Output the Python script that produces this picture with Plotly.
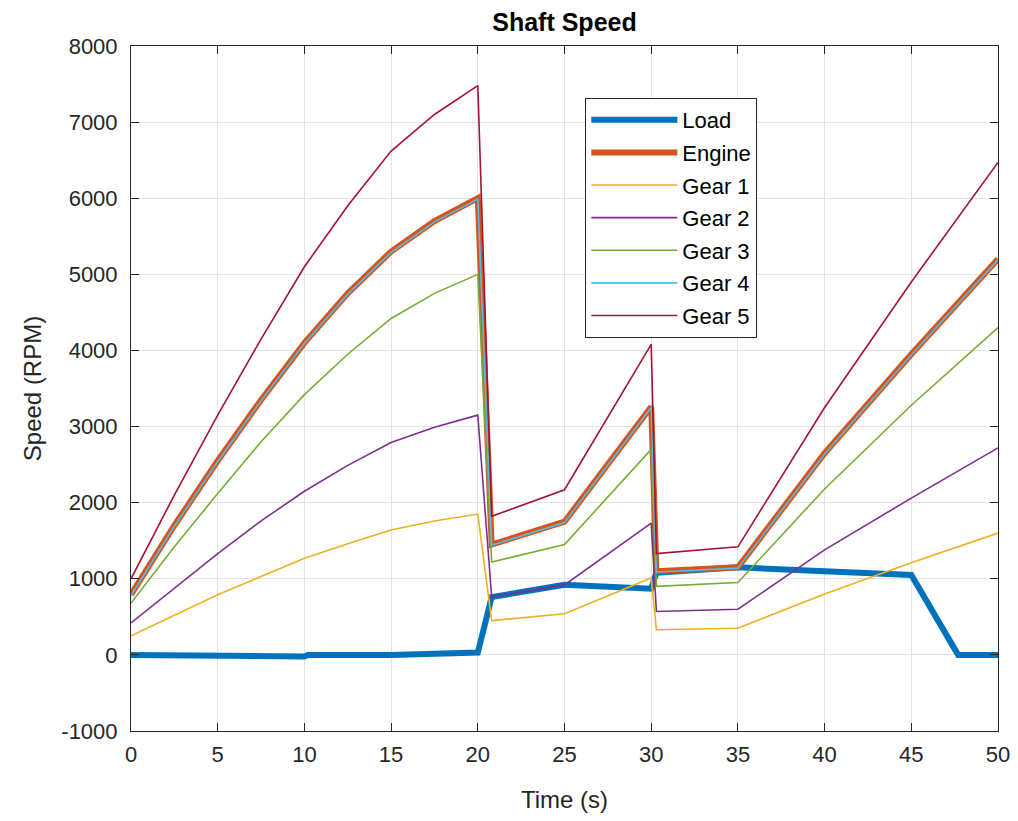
import plotly.graph_objects as go

# ---- data ----
t_gear = [0, 2.5, 5, 7.5, 10, 12.5, 15, 17.5, 20, 20.8, 25, 30, 30.3, 35, 40, 45, 50]
engine = [790, 1700, 2550, 3350, 4100, 4750, 5300, 5700, 6000, 1450, 1750, 3260, 1100, 1150, 2650, 3950, 5200]
gear1 = [250, 520, 790, 1030, 1270, 1460, 1640, 1760, 1850, 450, 540, 1010, 330, 350, 800, 1210, 1600]
gear2 = [420, 880, 1330, 1760, 2150, 2490, 2790, 2990, 3150, 760, 920, 1730, 570, 600, 1380, 2060, 2720]
gear3 = [680, 1420, 2120, 2800, 3420, 3950, 4420, 4750, 5000, 1220, 1450, 2700, 900, 950, 2180, 3280, 4300]
gear4 = [780, 1690, 2540, 3340, 4090, 4740, 5290, 5690, 5990, 1440, 1740, 3250, 1090, 1140, 2640, 3940, 5190]
gear5 = [1000, 2100, 3150, 4150, 5100, 5900, 6620, 7100, 7480, 1820, 2170, 4080, 1330, 1420, 3250, 4900, 6470]

t_load = [0, 10, 10.2, 15, 20, 20.8, 25, 30, 30.3, 35, 40, 45, 47.7, 50]
load = [0, -20, 0, 0, 30, 760, 920, 870, 1080, 1150, 1100, 1050, 0, 0]

x_ticks = [0, 5, 10, 15, 20, 25, 30, 35, 40, 45, 50]
y_ticks = [-1000, 0, 1000, 2000, 3000, 4000, 5000, 6000, 7000, 8000]
y_tick_labels = ["-1000", "0", "1000", "2000", "3000", "4000", "5000", "6000", "7000", "8000"]

fig = go.Figure()
fig.add_trace(go.Scatter(x=t_load, y=load, mode="lines", name="Load", legendgroup="a",
                         line=dict(color="#0072BD", width=6)))
fig.add_trace(go.Scatter(x=t_gear, y=engine, mode="lines", name="Engine", legendgroup="b",
                         line=dict(color="#D95319", width=6)))
series = [("Gear 1", gear1, "#EDB120"), ("Gear 2", gear2, "#7E2F8E"),
          ("Gear 3", gear3, "#77AC30"), ("Gear 4", gear4, "#4DBEEE"),
          ("Gear 5", gear5, "#A2142F")]
for i, (name, vals, col) in enumerate(series):
    fig.add_trace(go.Scatter(x=t_gear, y=vals, mode="lines", name=name, legendgroup="g%d" % i,
                             line=dict(color=col, width=1.6)))

axis_common = dict(showline=True, mirror="ticks", linecolor="#262626", linewidth=1,
                   ticks="inside", ticklen=8, tickcolor="#262626",
                   showgrid=True, gridcolor="#E3E3E3", gridwidth=1, automargin=False,
                   zeroline=False, tickfont=dict(size=22, color="#262626"))

W, H = 1018, 821
fig.update_layout(
    width=W, height=H,
    paper_bgcolor="white", plot_bgcolor="white",
    font=dict(family="Liberation Sans, Arial, sans-serif", color="#262626"),
    margin=dict(l=131, r=20, t=46, b=90),
    title=dict(text="<b>Shaft Speed</b>", x=0.5, xanchor="center", xref="paper",
               y=1 - 22 / H, yanchor="middle", font=dict(size=25, color="#000000")),
    xaxis=dict(range=[0, 50], tickvals=x_ticks, ticklabelstandoff=4,
               title=dict(text="Time (s)", font=dict(size=24), standoff=24),
               **axis_common),
    yaxis=dict(range=[-1000, 8000], tickvals=y_ticks, ticktext=y_tick_labels, ticklabelstandoff=8,
               title=dict(text="Speed (RPM)", font=dict(size=24), standoff=12),
               **axis_common),
    legend=dict(x=0.524, y=0.924, xanchor="left", yanchor="top",
                bgcolor="white", bordercolor="#262626", borderwidth=1,
                font=dict(size=22, color="#000000"), tracegroupgap=1,
                itemwidth=86),
    showlegend=True,
)

fig.write_html("out.html", config={"displayModeBar": False},
               post_script="document.body.style.margin='0';document.body.style.overflow='hidden';")
